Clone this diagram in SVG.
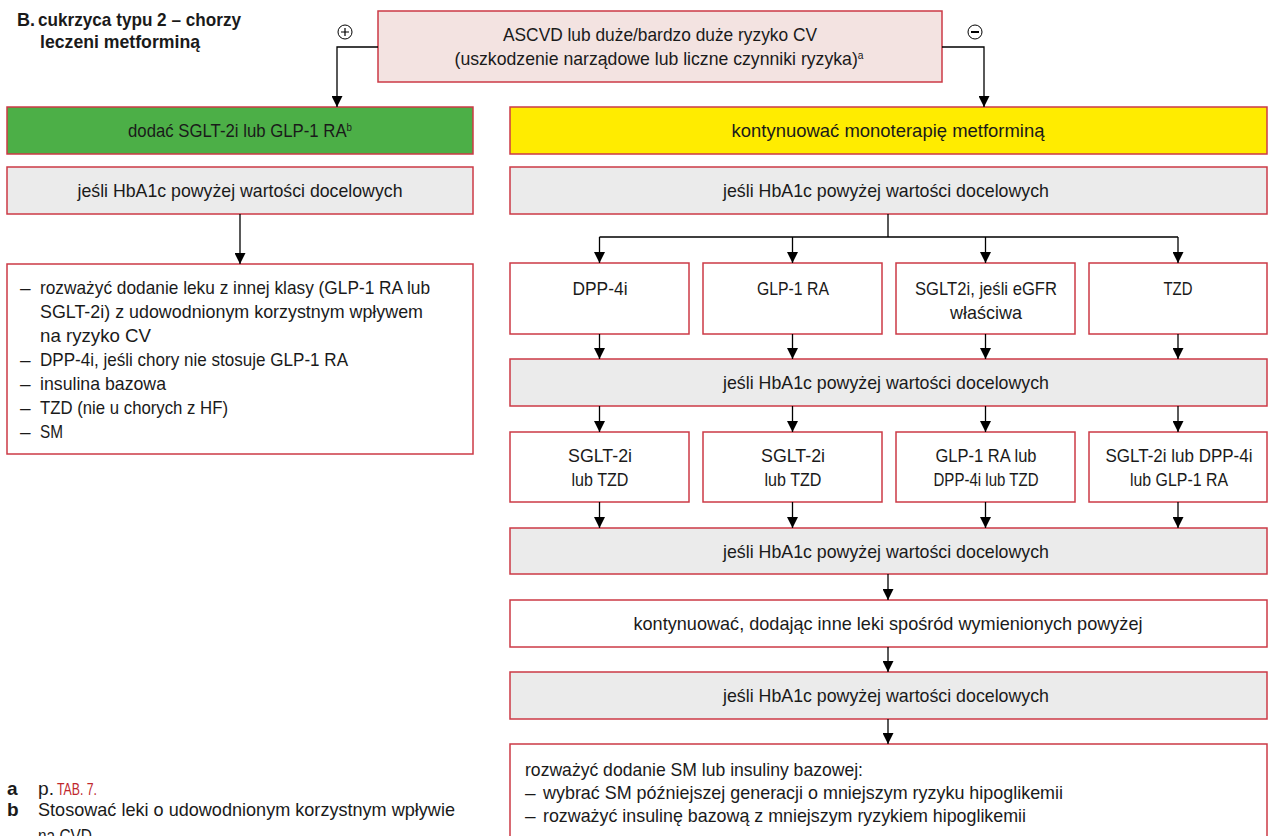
<svg xmlns="http://www.w3.org/2000/svg" width="1271" height="836" viewBox="0 0 1271 836">
<style>
text{font-family:"Liberation Sans",Arial,sans-serif;font-size:19px;fill:#1a1a1a}
.c{text-anchor:middle}
.b{font-weight:bold}
.sup{font-size:11px}
.box{stroke:#cc3a46;stroke-width:1.5}
.w{fill:#fff}
.g{fill:#ebebeb}
.conn path{fill:none;stroke:#000;stroke-width:1.3}
.red{fill:#c0272d;font-size:17px}
</style>
<defs>
<marker id="ah" markerWidth="11" markerHeight="11" refX="11" refY="5.5" orient="auto" markerUnits="userSpaceOnUse">
<path d="M0,0 L11,5.5 L0,11 z" fill="#000"/>
</marker>
</defs>
<rect width="1271" height="836" fill="#fff"/>

<g id="title">
<text x="17" y="26" class="b" font-size="18" textLength="18" lengthAdjust="spacingAndGlyphs">B.</text>
<text x="38" y="26" class="b" font-size="18" textLength="203" lengthAdjust="spacingAndGlyphs">cukrzyca typu 2 – chorzy</text>
<text x="40" y="48" class="b" font-size="18" textLength="160" lengthAdjust="spacingAndGlyphs">leczeni metforminą</text>
</g>

<g id="start">
<rect class="box" x="378" y="11" width="564" height="71" fill="#f3e3e1"/>
<text x="660" y="41" class="c" textLength="314" lengthAdjust="spacingAndGlyphs">ASCVD lub duże/bardzo duże ryzyko CV</text>
<text x="659" y="65" class="c" textLength="409" lengthAdjust="spacingAndGlyphs">(uszkodzenie narządowe lub liczne czynniki ryzyka)<tspan class="sup" dy="-6">a</tspan></text>
</g>

<g id="plus">
<circle cx="345" cy="32" r="7" fill="#fff" stroke="#000" stroke-width="1"/>
<path d="M341,32 H349 M345,28 V36" stroke="#000" stroke-width="1.2"/>
</g>
<g id="minus">
<circle cx="975" cy="32" r="7" fill="#fff" stroke="#000" stroke-width="1"/>
<path d="M971,32 H979" stroke="#000" stroke-width="2"/>
</g>

<g id="green">
<rect class="box" x="7" y="107" width="466" height="47" fill="#4caf47"/>
<text x="240" y="137" class="c" textLength="224" lengthAdjust="spacingAndGlyphs">dodać SGLT-2i lub GLP-1 RA<tspan class="sup" dy="-6">b</tspan></text>
</g>

<g id="yellow">
<rect class="box" x="510" y="107" width="757" height="47" fill="#ffec00"/>
<text x="888" y="137" class="c" textLength="313" lengthAdjust="spacingAndGlyphs">kontynuować monoterapię metforminą</text>
</g>

<g id="left-hba1c">
<rect class="box g" x="7" y="167" width="466" height="47"/>
<text x="240" y="197" class="c" textLength="325" lengthAdjust="spacingAndGlyphs">jeśli HbA1c powyżej wartości docelowych</text>
</g>

<g id="right-hba1c-1">
<rect class="box g" x="510" y="167" width="757" height="47"/>
<text x="886" y="197" class="c" textLength="326" lengthAdjust="spacingAndGlyphs">jeśli HbA1c powyżej wartości docelowych</text>
</g>

<g id="left-list">
<rect class="box w" x="7" y="264" width="466" height="190"/>
<text x="20" y="294">–</text><text x="40" y="294" textLength="390" lengthAdjust="spacingAndGlyphs">rozważyć dodanie leku z innej klasy (GLP-1 RA lub</text>
<text x="40" y="318" textLength="383" lengthAdjust="spacingAndGlyphs">SGLT-2i) z udowodnionym korzystnym wpływem</text>
<text x="40" y="342" textLength="111" lengthAdjust="spacingAndGlyphs">na ryzyko CV</text>
<text x="20" y="366">–</text><text x="40" y="366" textLength="308" lengthAdjust="spacingAndGlyphs">DPP-4i, jeśli chory nie stosuje GLP-1 RA</text>
<text x="20" y="390">–</text><text x="40" y="390" textLength="126" lengthAdjust="spacingAndGlyphs">insulina bazowa</text>
<text x="20" y="414">–</text><text x="40" y="414" textLength="188" lengthAdjust="spacingAndGlyphs">TZD (nie u chorych z HF)</text>
<text x="20" y="438">–</text><text x="40" y="438" textLength="23" lengthAdjust="spacingAndGlyphs">SM</text>
</g>

<g id="dpp4">
<rect class="box w" x="510" y="263" width="179" height="71"/>
<text x="600" y="295" class="c" textLength="55" lengthAdjust="spacingAndGlyphs">DPP-4i</text>
</g>
<g id="glp1">
<rect class="box w" x="703" y="263" width="179" height="71"/>
<text x="793" y="295" class="c" textLength="72" lengthAdjust="spacingAndGlyphs">GLP-1 RA</text>
</g>
<g id="sglt2">
<rect class="box w" x="896" y="263" width="179" height="71"/>
<text x="986" y="295" class="c" textLength="142" lengthAdjust="spacingAndGlyphs">SGLT2i, jeśli eGFR</text>
<text x="986" y="319" class="c" textLength="72" lengthAdjust="spacingAndGlyphs">właściwa</text>
</g>
<g id="tzd">
<rect class="box w" x="1089" y="263" width="178" height="71"/>
<text x="1178" y="295" class="c" textLength="29" lengthAdjust="spacingAndGlyphs">TZD</text>
</g>

<g id="right-hba1c-2">
<rect class="box g" x="510" y="359" width="757" height="47"/>
<text x="886" y="389" class="c" textLength="326" lengthAdjust="spacingAndGlyphs">jeśli HbA1c powyżej wartości docelowych</text>
</g>

<g id="r2a">
<rect class="box w" x="510" y="432" width="179" height="70"/>
<text x="600" y="462" class="c" textLength="64" lengthAdjust="spacingAndGlyphs">SGLT-2i</text>
<text x="600" y="486" class="c" textLength="57" lengthAdjust="spacingAndGlyphs">lub TZD</text>
</g>
<g id="r2b">
<rect class="box w" x="703" y="432" width="179" height="70"/>
<text x="793" y="462" class="c" textLength="64" lengthAdjust="spacingAndGlyphs">SGLT-2i</text>
<text x="793" y="486" class="c" textLength="57" lengthAdjust="spacingAndGlyphs">lub TZD</text>
</g>
<g id="r2c">
<rect class="box w" x="896" y="432" width="179" height="70"/>
<text x="986" y="462" class="c" textLength="101" lengthAdjust="spacingAndGlyphs">GLP-1 RA lub</text>
<text x="986" y="486" class="c" textLength="105" lengthAdjust="spacingAndGlyphs">DPP-4i lub TZD</text>
</g>
<g id="r2d">
<rect class="box w" x="1089" y="432" width="178" height="70"/>
<text x="1179" y="462" class="c" textLength="147" lengthAdjust="spacingAndGlyphs">SGLT-2i lub DPP-4i</text>
<text x="1179" y="486" class="c" textLength="98" lengthAdjust="spacingAndGlyphs">lub GLP-1 RA</text>
</g>

<g id="right-hba1c-3">
<rect class="box g" x="510" y="528" width="757" height="46"/>
<text x="886" y="558" class="c" textLength="326" lengthAdjust="spacingAndGlyphs">jeśli HbA1c powyżej wartości docelowych</text>
</g>

<g id="continue">
<rect class="box w" x="510" y="600" width="757" height="47"/>
<text x="888" y="630" class="c" textLength="509" lengthAdjust="spacingAndGlyphs">kontynuować, dodając inne leki spośród wymienionych powyżej</text>
</g>

<g id="right-hba1c-4">
<rect class="box g" x="510" y="672" width="757" height="47"/>
<text x="886" y="702" class="c" textLength="326" lengthAdjust="spacingAndGlyphs">jeśli HbA1c powyżej wartości docelowych</text>
</g>

<g id="final">
<rect class="box w" x="510" y="744" width="757" height="140"/>
<text x="525" y="776" textLength="338" lengthAdjust="spacingAndGlyphs">rozważyć dodanie SM lub insuliny bazowej:</text>
<text x="525" y="799">–</text><text x="543" y="799" textLength="520" lengthAdjust="spacingAndGlyphs">wybrać SM późniejszej generacji o mniejszym ryzyku hipoglikemii</text>
<text x="525" y="822">–</text><text x="543" y="822" textLength="483" lengthAdjust="spacingAndGlyphs">rozważyć insulinę bazową z mniejszym ryzykiem hipoglikemii</text>
</g>

<g id="footnotes">
<text x="7" y="795" class="b">a</text>
<text x="38" y="795" textLength="16" lengthAdjust="spacingAndGlyphs">p.</text>
<text x="57" y="795" class="red" textLength="40" lengthAdjust="spacingAndGlyphs">TAB. 7.</text>
<text x="7" y="816" class="b">b</text>
<text x="38" y="816" textLength="417" lengthAdjust="spacingAndGlyphs">Stosować leki o udowodnionym korzystnym wpływie</text>
<text x="38" y="842" textLength="54" lengthAdjust="spacingAndGlyphs">na CVD</text>
</g>

<g id="connectors" class="conn">
<path d="M378,47 H337 V107" marker-end="url(#ah)"/>
<path d="M942,47 H984 V107" marker-end="url(#ah)"/>
<path d="M240,214 V264" marker-end="url(#ah)"/>
<path d="M888,214 V237 M599.5,237 H1178"/>
<path d="M599.5,237 V263" marker-end="url(#ah)"/>
<path d="M792.5,237 V263" marker-end="url(#ah)"/>
<path d="M985.5,237 V263" marker-end="url(#ah)"/>
<path d="M1178,237 V263" marker-end="url(#ah)"/>
<path d="M599.5,334 V359" marker-end="url(#ah)"/>
<path d="M792.5,334 V359" marker-end="url(#ah)"/>
<path d="M985.5,334 V359" marker-end="url(#ah)"/>
<path d="M1178,334 V359" marker-end="url(#ah)"/>
<path d="M599.5,406 V432" marker-end="url(#ah)"/>
<path d="M792.5,406 V432" marker-end="url(#ah)"/>
<path d="M985.5,406 V432" marker-end="url(#ah)"/>
<path d="M1178,406 V432" marker-end="url(#ah)"/>
<path d="M599.5,502 V528" marker-end="url(#ah)"/>
<path d="M792.5,502 V528" marker-end="url(#ah)"/>
<path d="M985.5,502 V528" marker-end="url(#ah)"/>
<path d="M1178,502 V528" marker-end="url(#ah)"/>
<path d="M888,574 V600" marker-end="url(#ah)"/>
<path d="M888,647 V672" marker-end="url(#ah)"/>
<path d="M888,719 V744" marker-end="url(#ah)"/>
</g>
</svg>
